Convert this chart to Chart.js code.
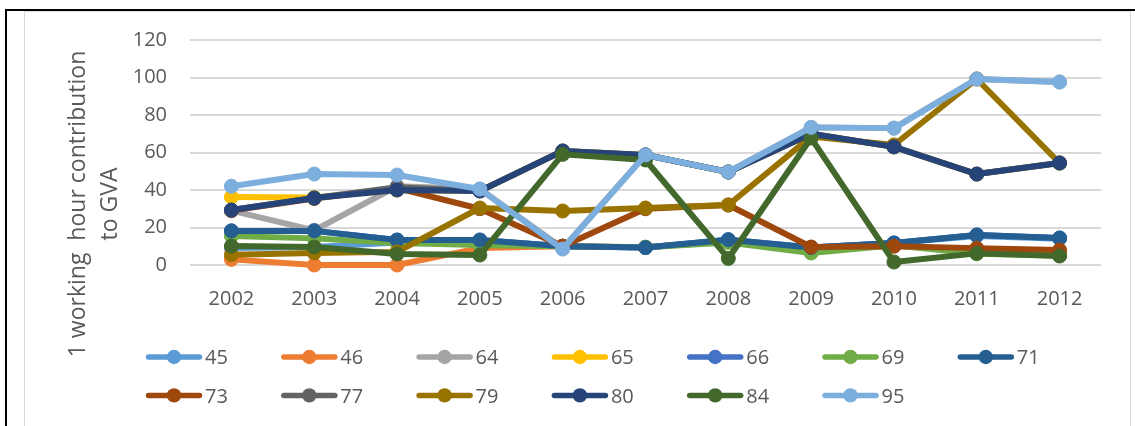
<!DOCTYPE html>
<html>
<head>
<meta charset="utf-8">
<script src="https://cdn.jsdelivr.net/npm/chart.js@4.4.1/dist/chart.umd.min.js"></script>
<style>
  html, body { margin: 0; padding: 0; background: #fff; }
  body { width: 1135px; height: 426px; position: relative; overflow: hidden; }
  #cell { position: absolute; left: 5px; top: 9px; width: 1128px; height: 420px;
          border-top: 2px solid #000; border-left: 2px solid #000; }
  #frame { position: absolute; left: 24px; top: 11px; width: 1105px; height: 430px;
           border: 1px solid #d9d9d9; }
  #chart { position: absolute; left: 0; top: 0; }
</style>
</head>
<body>
<div id="cell"></div>
<div id="frame"></div>
<canvas id="chart" width="1135" height="426"></canvas>
<script>
const years = ['2002', '2003', '2004', '2005', '2006', '2007', '2008', '2009', '2010', '2011', '2012'];
const seriesCodes = ['45', '46', '64', '65', '66', '69', '71', '73', '77', '79', '80', '84', '95'];

const v45 = [9, 9.6, 12, 12, 10, 9.3, 13, 9.3, 11.7, 15.5, 14];
const v46 = [3, 0, 0, 9, 10, 9.5, 12.5, 8, 10.5, 7, 6];
const v64 = [29, 18.5, 42, 40.5, 9, 58.7, 49.6, 73.4, 73, 99.2, 97.6];
const v65 = [36.3, 36, 40, 39.5, 60.8, 58.7, 49.6, 70, 63, 48.5, 54.4];
const v66 = [18.2, 18.2, 13.3, 13.3, 10, 9.3, 13.5, 9.3, 11.7, 16, 14.4];
const v69 = [15.5, 14.2, 11.7, 10.7, 10, 9.5, 12, 6.4, 10.5, 6, 5];
const v71 = [18.2, 18.2, 13.3, 13.3, 10, 9.3, 13.5, 9.3, 11.7, 16, 14.4];
const v73 = [29, 35.5, 41, 30, 10, 30, 32, 9.6, 10, 9, 8];
const v77 = [29.3, 35.7, 41.5, 39.5, 60.8, 58.7, 49.6, 70, 63, 48.5, 54.4];
const v79 = [5.5, 6.4, 7, 30.4, 28.8, 30.4, 32, 68.5, 64, 99.2, 54.4];
const v80 = [29.3, 35.7, 40, 39.5, 60.8, 58.7, 49.6, 70, 63, 48.5, 54.4];
const v84 = [10.1, 9.6, 5.9, 5.3, 59, 56, 3.5, 67.7, 1.6, 6.2, 4.8];
const v95 = [42, 48.5, 48, 40.5, 8.5, 58.7, 49.6, 73.4, 73, 99.2, 97.6];
const seriesValues = [v45, v46, v64, v65, v66, v69, v71, v73, v77, v79, v80, v84, v95];

const seriesColors = ['#5b9bd5', '#ed7d31', '#a5a5a5', '#ffc000', '#4472c4', '#70ad47', '#255e91',
                      '#9e480e', '#636363', '#997300', '#264478', '#43682b', '#7cafdd'];

const yMin = 0, yMax = 120, yStep = 20;
const yTitleLines = ['1 working  hour contribution', 'to GVA'];

const FONT = '"Open Sans", sans-serif';
const TEXT = '#595959';

// vertical axis title, two rotated lines
const axisTitle = {
  id: 'axisTitle',
  afterDraw(chart) {
    const ctx = chart.ctx;
    ctx.save();
    ctx.font = '23px ' + FONT;
    ctx.fillStyle = TEXT;
    ctx.textAlign = 'center';
    ctx.textBaseline = 'alphabetic';
    [85, 117].forEach((bx, i) => {
      ctx.save();
      ctx.translate(bx, 204);
      ctx.rotate(-Math.PI / 2);
      ctx.fillText(yTitleLines[i], 0, 0);
      ctx.restore();
    });
    ctx.restore();
  }
};

// legend with line + marker swatches, 7 per row
const lineLegend = {
  id: 'lineLegend',
  afterDraw(chart) {
    const ctx = chart.ctx;
    ctx.save();
    ctx.font = '20px ' + FONT;
    ctx.textBaseline = 'alphabetic';
    ctx.textAlign = 'left';
    chart.data.datasets.forEach((ds, i) => {
      const x = 146 + (i % 7) * 135.3;
      const y = 357 + Math.floor(i / 7) * 38.4;
      ctx.strokeStyle = ds.borderColor;
      ctx.lineWidth = 5.5;
      ctx.lineCap = 'round';
      ctx.beginPath();
      ctx.moveTo(x + 2.5, y);
      ctx.lineTo(x + 53.5, y);
      ctx.stroke();
      ctx.fillStyle = ds.borderColor;
      ctx.beginPath();
      ctx.arc(x + 28, y, 7.2, 0, Math.PI * 2);
      ctx.fill();
      ctx.fillStyle = TEXT;
      ctx.fillText(ds.label, x + 59, y + 7.3);
    });
    ctx.restore();
  }
};

const datasets = seriesCodes.map((code, i) => ({
  label: code,
  data: seriesValues[i],
  borderColor: seriesColors[i],
  backgroundColor: seriesColors[i],
  pointBackgroundColor: seriesColors[i],
  pointBorderColor: seriesColors[i],
  borderWidth: 6,
  pointRadius: 7,
  pointBorderWidth: 1,
  borderJoinStyle: 'round',
  borderCapStyle: 'round',
  tension: 0,
  clip: false,
  order: -i   // later series on top
}));

new Chart(document.getElementById('chart'), {
  type: 'line',
  data: { labels: years, datasets: datasets },
  options: {
    responsive: false,
    animation: false,
    layout: { padding: { left: 0, right: 34, top: 40, bottom: 0 } },
    plugins: {
      legend: { display: false },
      tooltip: { enabled: false }
    },
    scales: {
      x: {
        offset: true,
        grid: { display: false },
        border: { display: false },
        ticks: { color: TEXT, font: { family: FONT, size: 20 }, padding: 14, maxRotation: 0 },
        afterFit(scale) { scale.height = 161; }
      },
      y: {
        min: yMin,
        max: yMax,
        grid: { color: '#d9d9d9', lineWidth: 2, drawTicks: false },
        border: { display: false },
        ticks: { stepSize: yStep, color: TEXT, font: { family: FONT, size: 20 }, padding: 23 },
        afterFit(scale) { scale.width = 190; }
      }
    }
  },
  plugins: [axisTitle, lineLegend]
});
</script>
</body>
</html>
